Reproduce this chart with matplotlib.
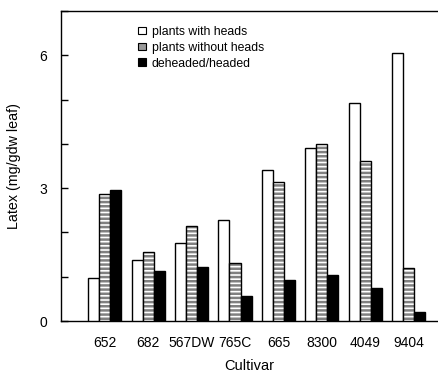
import matplotlib
matplotlib.use("Agg")
import matplotlib.pyplot as plt
import matplotlib.patches as mpatches
import numpy as np

plt.rcParams['font.family'] = ['Liberation Sans', 'DejaVu Sans']
plt.rcParams['hatch.linewidth'] = 1.8

cultivars = ["652", "682", "567DW", "765C", "665", "8300", "4049", "9404"]
with_heads = [0.96, 1.37, 1.75, 2.29, 3.41, 3.90, 4.92, 6.06]
without_heads = [2.86, 1.56, 2.14, 1.31, 3.13, 4.00, 3.61, 1.19]
deheaded_ratio = [2.95, 1.14, 1.23, 0.57, 0.92, 1.04, 0.75, 0.20]
series_labels = ["plants with heads", "plants without heads", "deheaded/headed"]
yticks_major = [0, 3, 6]

fig = plt.figure(figsize=(4.39, 3.74), dpi=100)
ax = fig.add_axes([0.139, 0.1417, 0.859, 0.829])

x = np.arange(len(cultivars))
w = 0.253
ax.bar(x - w, with_heads, w, color='white', edgecolor='black', linewidth=1.0, zorder=3)
ax.bar(x, without_heads, w, color='white', edgecolor='#808080', hatch='----', linewidth=0, zorder=3)
ax.bar(x, without_heads, w, fill=False, edgecolor='black', linewidth=1.0, zorder=4)
ax.bar(x + w, deheaded_ratio, w, color='black', edgecolor='black', linewidth=1.0, zorder=3)

ax.set_xlim(-1.0, 7.67)
ax.set_ylim(0, 7)
ax.set_xticks(x)
ax.set_xticklabels(cultivars, fontsize=10)
ax.tick_params(axis='x', length=0, pad=11)
ax.set_yticks(np.arange(0, 8, 1))
ax.set_yticklabels([str(v) if v in yticks_major else '' for v in range(0, 8)], fontsize=10)
ax.tick_params(axis='y', direction='in', length=5, width=1, pad=10)
ax.spines['right'].set_visible(False)
for s in ['left', 'top', 'bottom']:
    ax.spines[s].set_linewidth(1.0)
ax.set_xlabel("Cultivar", fontsize=10.5, labelpad=6)
ax.set_ylabel("Latex (mg/gdw leaf)", fontsize=10.3, labelpad=13)

h1 = mpatches.Patch(facecolor='white', edgecolor='black', linewidth=0.8)
h2 = mpatches.Patch(facecolor='#999999', edgecolor='black', linewidth=0.8)
h3 = mpatches.Patch(facecolor='black', edgecolor='black', linewidth=0.8)
ax.legend([h1, h2, h3], series_labels, loc='upper left', bbox_to_anchor=(0.205, 0.952),
          frameon=False, fontsize=8.8, handlelength=0.6, handleheight=0.6,
          handletextpad=0.5, labelspacing=0.32, borderpad=0, borderaxespad=0)

fig.savefig("out.png", dpi=100)
